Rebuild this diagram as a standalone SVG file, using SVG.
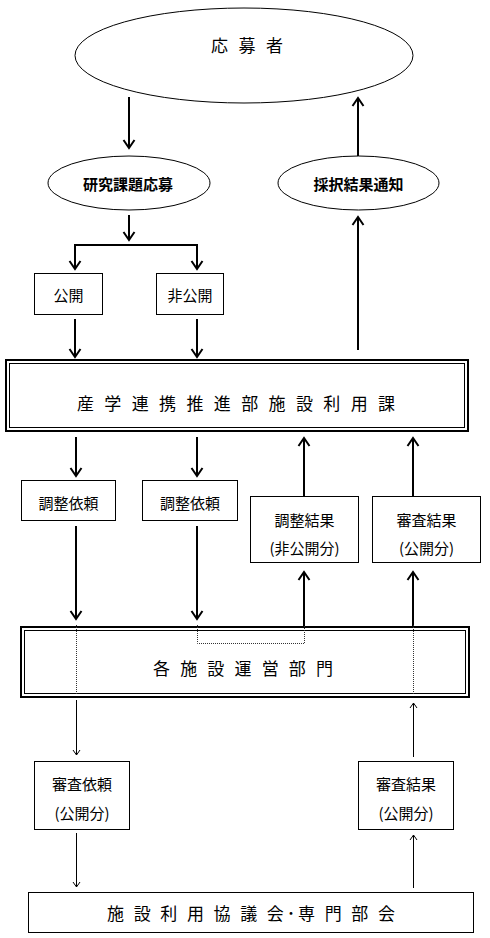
<svg xmlns="http://www.w3.org/2000/svg" width="490" height="938" viewBox="0 0 490 938">
<style>
text{font-family:"Noto Sans CJK JP","Noto Sans CJK SC",sans-serif;fill:#000;text-anchor:middle;dominant-baseline:central}
.shape{fill:#fff;stroke:#000;stroke-width:1}
.thick{stroke:#000;stroke-width:2;fill:none}
.thin{stroke:#000;stroke-width:1;fill:none}
.dot{stroke:#333;stroke-width:1;fill:none;stroke-dasharray:1 1}
.t15{font-size:15px}
.big{font-size:17px}
</style>
<defs>
<marker id="ah" markerUnits="userSpaceOnUse" markerWidth="12" markerHeight="14" refX="10" refY="7" orient="auto">
<path d="M2,1.5 L10,7 L2,12.5" fill="none" stroke="#000" stroke-width="2"/>
</marker>
<marker id="ahs" markerUnits="userSpaceOnUse" markerWidth="8" markerHeight="10" refX="6" refY="5" orient="auto">
<path d="M1,1.5 L6,5 L1,8.5" fill="none" stroke="#000" stroke-width="1"/>
</marker>
</defs>
<rect width="490" height="938" fill="#fff"/>
<g id="n-applicant">
<ellipse class="shape" cx="244" cy="55.5" rx="169" ry="47.5"/>
<text class="big" x="247" y="44" textLength="72" lengthAdjust="spacing">応 募 者</text>
</g>
<g id="n-apply">
<ellipse class="shape" cx="129" cy="183" rx="81" ry="27"/>
<text x="128" y="183" font-size="15" font-weight="bold">研究課題応募</text>
</g>
<g id="n-notice">
<ellipse class="shape" cx="358.5" cy="183" rx="80.5" ry="27"/>
<text x="358.5" y="183" font-size="15" font-weight="bold">採択結果通知</text>
</g>
<g id="n-public">
<rect class="shape" x="34.5" y="273.5" width="68" height="41"/>
<text class="t15" x="68.5" y="294">公開</text>
</g>
<g id="n-private">
<rect class="shape" x="156.5" y="273.5" width="67" height="41"/>
<text class="t15" x="190" y="294">非公開</text>
</g>
<g id="n-office">
<rect x="6" y="360" width="462" height="71" fill="#fff" stroke="#000" stroke-width="2"/>
<rect x="9.5" y="363.5" width="455" height="64" fill="none" stroke="#000" stroke-width="1"/>
<text class="big" x="236" y="402" textLength="318" lengthAdjust="spacing">産 学 連 携 推 進 部 施 設 利 用 課</text>
</g>
<g id="n-req1">
<rect class="shape" x="21.5" y="480.5" width="94" height="40"/>
<text class="t15" x="68.5" y="502">調整依頼</text>
</g>
<g id="n-req2">
<rect class="shape" x="142.5" y="480.5" width="95" height="40"/>
<text class="t15" x="190" y="502">調整依頼</text>
</g>
<g id="n-adjres">
<rect class="shape" x="250.5" y="496.5" width="108" height="66"/>
<text class="t15" x="304.5" y="519">調整結果</text>
<text class="t15" x="304.5" y="547">(非公開分)</text>
</g>
<g id="n-revres1">
<rect class="shape" x="372.5" y="496.5" width="108" height="66"/>
<text class="t15" x="426.5" y="519">審査結果</text>
<text class="t15" x="426.5" y="547">(公開分)</text>
</g>
<g id="n-facility">
<rect x="21" y="627" width="448" height="70" fill="#fff" stroke="#000" stroke-width="2"/>
<rect x="24.5" y="630.5" width="441" height="63" fill="none" stroke="#000" stroke-width="1"/>
<text class="big" x="243" y="667" textLength="180" lengthAdjust="spacing">各 施 設 運 営 部 門</text>
</g>
<g id="n-revreq">
<rect class="shape" x="34.5" y="761.5" width="95" height="68"/>
<text class="t15" x="82" y="783">審査依頼</text>
<text class="t15" x="82" y="812">(公開分)</text>
</g>
<g id="n-revres2">
<rect class="shape" x="358.5" y="761.5" width="95" height="68"/>
<text class="t15" x="406" y="783">審査結果</text>
<text class="t15" x="406" y="812">(公開分)</text>
</g>
<g id="n-council">
<rect class="shape" x="28.5" y="892.5" width="445" height="40"/>
<text class="big" x="251" y="912" textLength="288" lengthAdjust="spacing">施 設 利 用 協 議 会･専 門 部 会</text>
</g>
<g id="connectors">
<path class="thick" marker-end="url(#ah)" d="M129,97 V148"/>
<path class="thick" marker-end="url(#ah)" d="M358,156 V98"/>
<path class="thick" marker-end="url(#ah)" d="M129,215 V240"/>
<path class="thick" d="M75,245 H197"/>
<path class="thick" marker-end="url(#ah)" d="M75,244 V269"/>
<path class="thick" marker-end="url(#ah)" d="M197,244 V269"/>
<path class="thick" marker-end="url(#ah)" d="M75,319 V357"/>
<path class="thick" marker-end="url(#ah)" d="M197,319 V357"/>
<path class="thick" marker-end="url(#ah)" d="M358,350 V217"/>
<path class="thick" marker-end="url(#ah)" d="M76,437 V476"/>
<path class="thick" marker-end="url(#ah)" d="M197,437 V476"/>
<path class="thick" marker-end="url(#ah)" d="M304,496 V438"/>
<path class="thick" marker-end="url(#ah)" d="M413,496 V438"/>
<path class="thick" marker-end="url(#ah)" d="M76,526 V619"/>
<path class="thick" marker-end="url(#ah)" d="M197,526 V619"/>
<path class="thick" marker-end="url(#ah)" d="M304,626 V572"/>
<path class="thick" marker-end="url(#ah)" d="M413,626 V572"/>
<path class="dot" d="M76.5,625 V694"/>
<path class="dot" d="M413.5,625 V694"/>
<path class="dot" d="M197.5,625 V643.5 H304.5 V625"/>
<path class="thin" marker-end="url(#ahs)" d="M76.5,700 V755"/>
<path class="thin" marker-end="url(#ahs)" d="M413.5,757 V703"/>
<path class="thin" marker-end="url(#ahs)" d="M76.5,833 V887"/>
<path class="thin" marker-end="url(#ahs)" d="M413.5,888 V835"/>
</g>
</svg>
